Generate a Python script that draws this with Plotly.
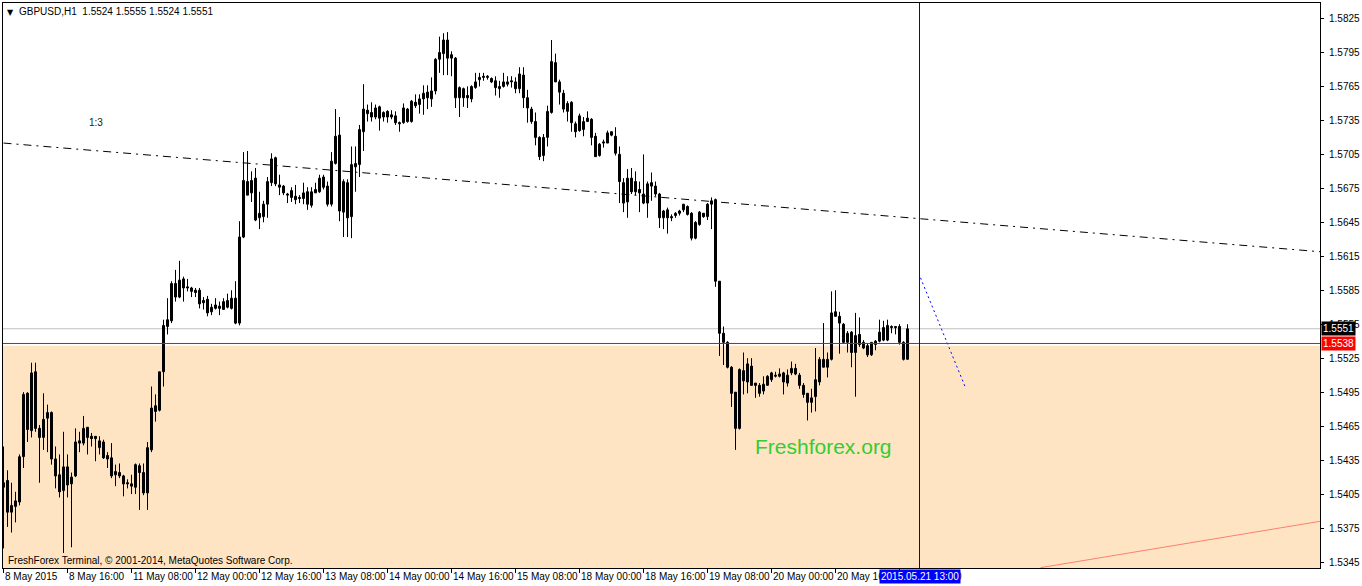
import plotly.graph_objects as go

# ---------------- data (GBPUSD H1, prices x 10^4) ----------------
bar_index = list(range(227))

open_pts = [
    15411, 15417, 15389, 15394, 15398, 15438, 15494, 15461, 15513, 15463,
    15455, 15472, 15477, 15436, 15422, 15408, 15429, 15414, 15421, 15452,
    15450, 15464, 15456, 15456, 15446, 15451, 15439, 15437, 15422, 15424,
    15421, 15415, 15414, 15411, 15430, 15424, 15406, 15444, 15483, 15479,
    15513, 15553, 15558, 15591, 15579, 15595, 15588, 15587, 15585, 15585,
    15576, 15577, 15566, 15569, 15571, 15568, 15570, 15569, 15578, 15556,
    15632, 15681, 15671, 15684, 15649, 15650, 15661, 15680, 15702, 15676,
    15677, 15670, 15673, 15668, 15667, 15666, 15672, 15660, 15671, 15672,
    15685, 15677, 15661, 15697, 15722, 15654, 15680, 15650, 15694, 15696,
    15725, 15744, 15742, 15738, 15747, 15738, 15743, 15738, 15739, 15733,
    15733, 15745, 15734, 15751, 15749, 15754, 15760, 15754, 15761, 15789,
    15794, 15806, 15793, 15790, 15755, 15763, 15757, 15754, 15764, 15771,
    15774, 15774, 15772, 15770, 15763, 15765, 15767, 15770, 15769, 15763,
    15775, 15755, 15745, 15734, 15720, 15704, 15720, 15742, 15786, 15769,
    15759, 15743, 15751, 15732, 15739, 15727, 15734, 15736, 15721, 15704,
    15716, 15715, 15725, 15721, 15705, 15680, 15663, 15684, 15681, 15674,
    15670, 15662, 15680, 15677, 15670, 15649, 15656, 15650, 15651, 15653,
    15656, 15659, 15653, 15631, 15643, 15653, 15650, 15661, 15665, 15593,
    15547, 15539, 15517, 15495, 15463, 15514, 15504, 15518, 15503, 15501,
    15496, 15501, 15506, 15509, 15509, 15512, 15503, 15512, 15516, 15510,
    15501, 15494, 15486, 15491, 15504, 15517, 15517, 15524, 15566, 15562,
    15555, 15539, 15548, 15530, 15546, 15539, 15536, 15528, 15537, 15540,
    15552, 15541, 15553, 15553, 15553, 15539, 15524,
]
high_pts = [
    15447, 15426, 15415, 15407, 15440, 15495, 15495, 15521, 15521, 15466,
    15494, 15484, 15478, 15447, 15440, 15460, 15440, 15424, 15463, 15460,
    15474, 15464, 15459, 15456, 15456, 15453, 15442, 15450, 15431, 15432,
    15422, 15418, 15422, 15432, 15432, 15432, 15451, 15500, 15493, 15513,
    15559, 15578, 15593, 15603, 15611, 15597, 15595, 15588, 15587, 15587,
    15579, 15580, 15573, 15578, 15575, 15578, 15582, 15585, 15593, 15646,
    15707, 15708, 15690, 15693, 15672, 15664, 15685, 15706, 15703, 15687,
    15678, 15671, 15676, 15678, 15669, 15680, 15676, 15676, 15680, 15687,
    15687, 15681, 15707, 15745, 15738, 15683, 15683, 15712, 15712, 15731,
    15767, 15749, 15751, 15749, 15748, 15743, 15744, 15744, 15743, 15734,
    15750, 15746, 15753, 15758, 15758, 15766, 15766, 15773, 15790, 15809,
    15812, 15813, 15796, 15791, 15765, 15764, 15765, 15766, 15777, 15777,
    15777, 15775, 15773, 15774, 15770, 15777, 15774, 15774, 15773, 15782,
    15782, 15762, 15747, 15742, 15721, 15723, 15748, 15806, 15794, 15771,
    15762, 15752, 15752, 15734, 15741, 15738, 15743, 15737, 15724, 15715,
    15718, 15726, 15725, 15729, 15712, 15684, 15692, 15693, 15690, 15681,
    15705, 15681, 15689, 15681, 15671, 15656, 15658, 15652, 15654, 15656,
    15661, 15660, 15654, 15646, 15655, 15653, 15662, 15667, 15666, 15593,
    15553, 15540, 15518, 15495, 15516, 15530, 15525, 15525, 15503, 15503,
    15509, 15510, 15513, 15513, 15516, 15513, 15515, 15522, 15520, 15512,
    15503, 15494, 15498, 15534, 15526, 15556, 15530, 15584, 15585, 15566,
    15556, 15549, 15549, 15565, 15561, 15541, 15538, 15539, 15541, 15559,
    15558, 15559, 15554, 15553, 15555, 15540, 15555,
]
low_pts = [
    15357, 15376, 15371, 15380, 15395, 15428, 15451, 15455, 15460, 15415,
    15444, 15442, 15431, 15410, 15402, 15353, 15402, 15358, 15420, 15442,
    15448, 15440, 15447, 15434, 15440, 15436, 15428, 15419, 15412, 15419,
    15403, 15410, 15405, 15405, 15391, 15404, 15391, 15442, 15469, 15478,
    15500, 15546, 15556, 15575, 15578, 15575, 15584, 15579, 15579, 15569,
    15568, 15562, 15563, 15568, 15563, 15568, 15569, 15568, 15555, 15554,
    15631, 15669, 15663, 15646, 15639, 15645, 15649, 15677, 15677, 15669,
    15669, 15662, 15663, 15661, 15662, 15661, 15656, 15658, 15671, 15671,
    15674, 15659, 15659, 15696, 15646, 15632, 15632, 15631, 15672, 15685,
    15708, 15734, 15734, 15736, 15726, 15734, 15733, 15736, 15731, 15725,
    15732, 15733, 15733, 15746, 15741, 15740, 15745, 15747, 15758, 15777,
    15775, 15775, 15774, 15746, 15738, 15747, 15746, 15751, 15763, 15765,
    15770, 15771, 15768, 15757, 15755, 15764, 15765, 15764, 15759, 15759,
    15746, 15733, 15732, 15713, 15700, 15699, 15712, 15741, 15769, 15749,
    15742, 15734, 15725, 15720, 15725, 15721, 15734, 15713, 15703, 15703,
    15711, 15715, 15721, 15704, 15662, 15654, 15649, 15670, 15669, 15654,
    15661, 15649, 15664, 15668, 15640, 15639, 15635, 15646, 15649, 15651,
    15654, 15651, 15629, 15630, 15642, 15649, 15647, 15639, 15588, 15527,
    15519, 15516, 15482, 15444, 15462, 15493, 15494, 15501, 15490, 15491,
    15493, 15501, 15504, 15508, 15508, 15493, 15500, 15510, 15510, 15498,
    15490, 15470, 15477, 15478, 15501, 15517, 15508, 15523, 15562, 15529,
    15538, 15530, 15517, 15491, 15535, 15533, 15526, 15527, 15532, 15539,
    15540, 15540, 15547, 15546, 15537, 15523, 15524,
]
close_pts = [
    15415, 15389, 15395, 15399, 15438, 15493, 15462, 15512, 15463, 15455,
    15471, 15477, 15436, 15421, 15407, 15429, 15413, 15420, 15451, 15450,
    15463, 15455, 15454, 15454, 15452, 15437, 15436, 15421, 15425, 15421,
    15414, 15414, 15412, 15431, 15424, 15406, 15446, 15481, 15478, 15513,
    15554, 15559, 15591, 15579, 15594, 15587, 15587, 15584, 15583, 15573,
    15574, 15565, 15570, 15572, 15569, 15575, 15576, 15578, 15556, 15632,
    15682, 15669, 15682, 15647, 15653, 15661, 15681, 15701, 15679, 15678,
    15671, 15669, 15667, 15665, 15666, 15671, 15661, 15672, 15674, 15684,
    15676, 15661, 15699, 15721, 15655, 15681, 15649, 15696, 15697, 15727,
    15745, 15741, 15738, 15746, 15737, 15742, 15738, 15740, 15733, 15732,
    15746, 15734, 15752, 15748, 15754, 15759, 15755, 15761, 15789, 15795,
    15806, 15790, 15790, 15755, 15764, 15755, 15755, 15765, 15769, 15773,
    15773, 15773, 15769, 15764, 15765, 15769, 15769, 15769, 15763, 15776,
    15755, 15746, 15734, 15720, 15703, 15720, 15743, 15787, 15769, 15760,
    15745, 15750, 15733, 15725, 15726, 15734, 15737, 15720, 15703, 15714,
    15715, 15724, 15722, 15706, 15681, 15662, 15684, 15672, 15672, 15671,
    15662, 15679, 15677, 15670, 15649, 15655, 15649, 15649, 15653, 15655,
    15661, 15652, 15631, 15645, 15654, 15650, 15661, 15664, 15593, 15547,
    15539, 15517, 15494, 15463, 15515, 15505, 15520, 15501, 15501, 15494,
    15502, 15509, 15512, 15510, 15511, 15504, 15510, 15516, 15511, 15501,
    15493, 15486, 15490, 15506, 15524, 15524, 15524, 15565, 15562, 15556,
    15539, 15547, 15530, 15545, 15537, 15534, 15528, 15539, 15540, 15548,
    15541, 15554, 15552, 15552, 15539, 15524, 15551,
]

x_tick_index = [0, 16, 32, 48, 64, 80, 96, 112, 128, 144, 160, 176, 192, 208, 224]
x_tick_labels = ["8 May 2015", "8 May 16:00", "11 May 08:00", "12 May 00:00",
                 "12 May 16:00", "13 May 08:00", "14 May 00:00", "14 May 16:00",
                 "15 May 08:00", "18 May 00:00", "18 May 16:00", "19 May 08:00",
                 "20 May 00:00", "20 May 16:00", "21 May 08:00"]
y_tick_values = [1.5345, 1.5375, 1.5405, 1.5435, 1.5465, 1.5495, 1.5525, 1.5555,
                 1.5585, 1.5615, 1.5645, 1.5675, 1.5705, 1.5735, 1.5765, 1.5795, 1.5825]

bid_price = 1.5551
level_price = 1.5538
zone_top = 1.5536
trend_x = [0, 329.25]
trend_y = [1.5715, 1.5619]
forecast_x = [229.25, 240.5]
forecast_y = [1.5596, 1.5499]
salmon_x = [259.25, 329.25]
salmon_y = [1.5340, 1.5381]
cursor_index = 229
cursor_label = "2015.05.21 13:00"
header_text = "GBPUSD,H1\u00a0\u00a01.5524 1.5555 1.5524 1.5551"
copyright_text = "FreshForex Terminal, © 2001-2014, MetaQuotes Software Corp."
watermark_text = "Freshforex.org"

# ---------------- figure ----------------
y_lo, y_hi = 1.53397, 1.58387
x_lo, x_hi = -0.125, 329.125
FONT = "Liberation Sans, Arial, sans-serif"

o = [v / 10000 for v in open_pts]
h = [v / 10000 for v in high_pts]
l = [v / 10000 for v in low_pts]
c = [v / 10000 for v in close_pts]

wx, wy = [], []
for i, hi_, lo_ in zip(bar_index, h, l):
    wx += [i, i, None]
    wy += [lo_, hi_, None]

bases = [min(a, b) for a, b in zip(o, c)]
heights = [max(abs(b - a), 0.00003) for a, b in zip(o, c)]
colors = ["white" if b >= a else "black" for a, b in zip(o, c)]

fig = go.Figure()
fig.add_trace(go.Scatter(x=wx, y=wy, mode="lines", line=dict(color="black", width=1),
                         hoverinfo="skip", showlegend=False))
fig.add_trace(go.Bar(x=bar_index, y=heights, base=bases, width=0.5,
                     marker=dict(color=colors, line=dict(color="black", width=1)),
                     hoverinfo="skip", showlegend=False))

shapes = [
    dict(type="rect", xref="paper", yref="y", x0=0, x1=1, y0=y_lo, y1=zone_top,
         fillcolor="#FFE4C4", line=dict(width=0), layer="below"),
    dict(type="line", xref="paper", yref="y", x0=0, x1=1, y0=bid_price, y1=bid_price,
         line=dict(color="#C0C0C0", width=1), layer="below"),
    dict(type="line", xref="x", yref="y", x0=trend_x[0], x1=trend_x[1], y0=trend_y[0], y1=trend_y[1],
         line=dict(color="black", width=1, dash="8px,5px,2px,5px"), layer="below"),
    dict(type="line", xref="x", yref="y", x0=forecast_x[0], x1=forecast_x[1],
         y0=forecast_y[0], y1=forecast_y[1],
         line=dict(color="#0000FF", width=1, dash="2px,3px"), layer="below"),
    dict(type="line", xref="x", yref="y", x0=salmon_x[0], x1=salmon_x[1],
         y0=salmon_y[0], y1=salmon_y[1],
         line=dict(color="#FA8072", width=1), layer="below"),
    dict(type="line", xref="paper", yref="y", x0=0, x1=1, y0=level_price, y1=level_price,
         line=dict(color="#FF0000", width=1), layer="above"),
    dict(type="line", xref="x", yref="paper", x0=cursor_index, x1=cursor_index, y0=0, y1=1,
         line=dict(color="#0000DD", width=1), layer="above"),
]

ann = []
# header
ann.append(dict(xref="paper", yref="paper", x=0, y=1, xshift=2, yshift=-3, xanchor="left",
                yanchor="top", text="▼", showarrow=False, font=dict(family="DejaVu Sans", size=8, color="black")))
ann.append(dict(xref="paper", yref="paper", x=0, y=1, xshift=14, yshift=-1, xanchor="left",
                yanchor="top", text=header_text, showarrow=False, font=dict(family=FONT, size=10, color="black")))
ann.append(dict(xref="paper", yref="paper", x=0, y=0, xshift=3, yshift=0, xanchor="left",
                yanchor="bottom", text=copyright_text, showarrow=False, font=dict(family=FONT, size=10, color="black")))
ann.append(dict(xref="x", yref="y", x=23.1, y=1.57336, text="1:3", showarrow=False,
                font=dict(family=FONT, size=10, color="#202020")))
ann.append(dict(xref="x", yref="y", x=205, y=1.54474, text=watermark_text, showarrow=False,
                font=dict(family=FONT, size=21, color="#32CD32")))
# x labels
for ti, tl in zip(x_tick_index, x_tick_labels):
    ann.append(dict(xref="x", yref="paper", x=ti, y=0, xanchor="left", yanchor="top",
                    xshift=-1, yshift=-1, text=tl, showarrow=False,
                    font=dict(family=FONT, size=10, color="black")))
# cursor time label
ann.append(dict(xref="x", yref="paper", x=cursor_index, y=0, xanchor="center", yanchor="top",
                yshift=-1, text=cursor_label, showarrow=False, bgcolor="#0000FF", borderpad=1,
                font=dict(family=FONT, size=10, color="white")))
# price labels
ann.append(dict(xref="paper", yref="y", x=1, y=bid_price, xanchor="left", yanchor="middle",
                xshift=1, text="1.5551", showarrow=False, bgcolor="black", borderpad=1,
                font=dict(family=FONT, size=10, color="white")))
ann.append(dict(xref="paper", yref="y", x=1, y=level_price, xanchor="left", yanchor="middle",
                xshift=1, text="1.5538", showarrow=False, bgcolor="#FF0000", borderpad=1,
                font=dict(family=FONT, size=10, color="white")))

fig.update_layout(
    width=1362, height=586,
    margin=dict(l=3, r=42, t=3, b=18),
    paper_bgcolor="white", plot_bgcolor="white",
    barmode="overlay", showlegend=False,
    shapes=shapes, annotations=ann,
    font=dict(family=FONT, size=10, color="black"),
    xaxis=dict(range=[x_lo, x_hi], tickmode="array", tickvals=x_tick_index,
               showticklabels=False, ticks="outside", ticklen=4, tickcolor="black",
               showgrid=False, zeroline=False, showline=True, linecolor="black",
               linewidth=1, mirror=True, fixedrange=True),
    yaxis=dict(range=[y_lo, y_hi], side="right", tickmode="array", tickvals=y_tick_values,
               ticktext=[f"{v:.4f}" for v in y_tick_values],
               ticks="outside", ticklen=3, tickcolor="black", ticklabelstandoff=3,
               tickfont=dict(family=FONT, size=10, color="black"),
               showgrid=False, zeroline=False, showline=True, linecolor="black",
               linewidth=1, mirror=True, fixedrange=True, automargin=False),
)

fig.write_html("out.html", config={"displayModeBar": False},
               post_script="document.body.style.margin='0px';")
